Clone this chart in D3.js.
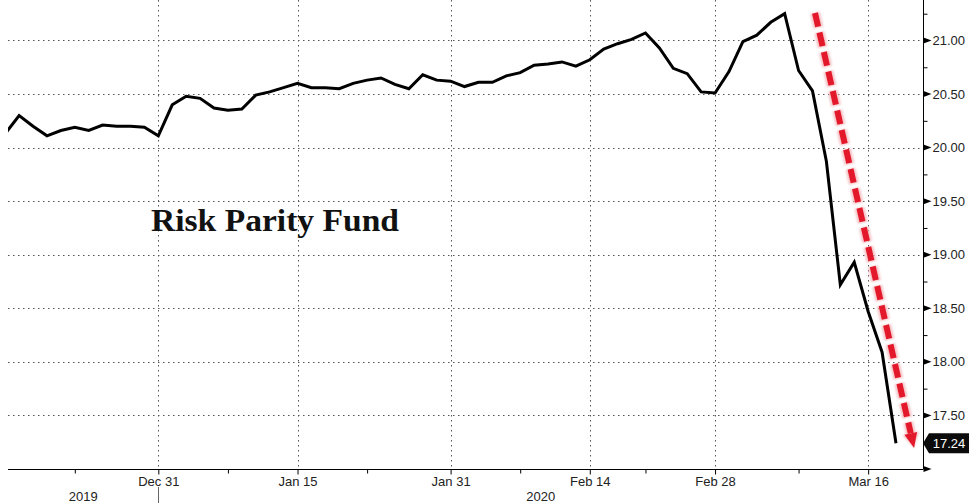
<!DOCTYPE html>
<html>
<head>
<meta charset="utf-8">
<script src="https://cdn.jsdelivr.net/npm/d3@7"></script>
<style>
  html, body { margin: 0; padding: 0; background: #fff; }
  svg { display: block; }
</style>
</head>
<body>
<svg id="chart" width="976" height="503"></svg>
<script>
// ---------------- data ----------------
const dates = [
  "2019-12-13","2019-12-16","2019-12-17","2019-12-18","2019-12-19","2019-12-20",
  "2019-12-23","2019-12-24","2019-12-26","2019-12-27","2019-12-30","2019-12-31",
  "2020-01-02","2020-01-03","2020-01-06","2020-01-07","2020-01-08","2020-01-09",
  "2020-01-10","2020-01-13","2020-01-14","2020-01-15","2020-01-16","2020-01-17",
  "2020-01-21","2020-01-22","2020-01-23","2020-01-24","2020-01-27","2020-01-28",
  "2020-01-29","2020-01-30","2020-01-31","2020-02-03","2020-02-04","2020-02-05",
  "2020-02-06","2020-02-07","2020-02-10","2020-02-11","2020-02-12","2020-02-13",
  "2020-02-14","2020-02-18","2020-02-19","2020-02-20","2020-02-21","2020-02-24",
  "2020-02-25","2020-02-26","2020-02-27","2020-02-28","2020-03-02","2020-03-03",
  "2020-03-04","2020-03-05","2020-03-06","2020-03-09","2020-03-10","2020-03-11",
  "2020-03-12","2020-03-13","2020-03-16","2020-03-17","2020-03-18"
];
const values = [
  20.13, 20.30, 20.20, 20.11, 20.16, 20.19,
  20.16, 20.21, 20.20, 20.20, 20.19, 20.11,
  20.40, 20.48, 20.46, 20.37, 20.35, 20.36,
  20.49, 20.52, 20.56, 20.60, 20.56, 20.56,
  20.55, 20.60, 20.63, 20.65, 20.59, 20.55,
  20.68, 20.63, 20.62, 20.57, 20.61, 20.61,
  20.67, 20.70, 20.77, 20.78, 20.80, 20.76,
  20.82, 20.92, 20.97, 21.01, 21.07, 20.93,
  20.74, 20.69, 20.52, 20.51, 20.71, 20.99,
  21.05, 21.17, 21.25, 20.72, 20.53, 19.87,
  18.72, 18.93, 18.47, 18.09, 17.24
];
const majorTickDates = ["2019-12-31","2020-01-15","2020-01-31","2020-02-14","2020-02-28","2020-03-16"];
const majorTickLabels = ["Dec 31","Jan 15","Jan 31","Feb 14","Feb 28","Mar 16"];
const minorTickDates = ["2019-12-20","2020-01-08","2020-01-23","2020-02-07","2020-02-21","2020-03-09"];
const yearLabels = ["2019","2020"];
const yearBoundary = "2019-12-31";
const yMajorTicks = [17.5, 18.0, 18.5, 19.0, 19.5, 20.0, 20.5, 21.0];
const yUnlabeledTicks = [17.0];
const yMinorTicks = [17.25, 17.75, 18.25, 18.75, 19.25, 19.75, 20.25, 20.75, 21.25];
const title = "Risk Parity Fund";
// annotation arrow (index position in dates array, value)
const arrowStart = [58.18, 21.257];
const arrowEnd = [65.3, 17.196];
const lastLabel = "17.24";

(function () {
// ---------------- layout ----------------
const svg = d3.select("#chart");
const pL = 8, pR = 923, pT = 0, pB = 469;
const idx = d => dates.indexOf(d);

const x = d3.scaleLinear().domain([0.2, 65.94]).range([pL, pR]);
const y = d3.scaleLinear().domain([17, 21.378]).range([pB, pT]);

const axisFont = "'Liberation Sans', Arial, sans-serif";

const defs = svg.append("defs");
defs.append("clipPath").attr("id", "plotclip")
  .append("rect").attr("x", pL).attr("y", pT)
  .attr("width", pR - pL).attr("height", pB - pT);
const blur = defs.append("filter").attr("id", "glow")
  .attr("x", "-50%").attr("y", "-50%").attr("width", "200%").attr("height", "200%");
blur.append("feGaussianBlur").attr("stdDeviation", 1.2);

// gridlines
const grid = svg.append("g");
grid.selectAll(".hgrid").data(yMajorTicks).join("line")
  .attr("x1", pL).attr("x2", pR)
  .attr("y1", d => Math.round(y(d)) + 0.5).attr("y2", d => Math.round(y(d)) + 0.5)
  .attr("stroke", "#555").attr("stroke-width", 1).attr("stroke-dasharray", "1.5,3.5");
grid.selectAll(".vgrid").data(majorTickDates).join("line")
  .attr("x1", d => Math.round(x(idx(d))) + 0.5).attr("x2", d => Math.round(x(idx(d))) + 0.5)
  .attr("y1", pT).attr("y2", pB)
  .attr("stroke", "#555").attr("stroke-width", 1).attr("stroke-dasharray", "1.5,3.5");

// bottom axis (major)
const xMajor = d3.axisBottom(x)
  .tickValues(majorTickDates.map(idx))
  .tickFormat((d, i) => majorTickLabels[i])
  .tickSize(5).tickSizeOuter(0).tickPadding(2);
const gx = svg.append("g").attr("transform", `translate(0,${pB + 0.5})`).call(xMajor);
gx.select(".domain").attr("stroke", "#000").attr("d", `M${pL},0H${pR}`);
gx.selectAll(".tick line").attr("stroke", "#000");
gx.selectAll(".tick text").attr("font-family", axisFont).attr("font-size", 13)
  .attr("fill", "#222");

const xMinor = d3.axisBottom(x).tickValues(minorTickDates.map(idx))
  .tickFormat("").tickSize(4).tickSizeOuter(0);
const gxm = svg.append("g").attr("transform", `translate(0,${pB + 0.5})`).call(xMinor);
gxm.select(".domain").remove();
gxm.selectAll(".tick line").attr("stroke", "#000");

// year labels and separator
const bx = Math.round(x(idx(yearBoundary))) + 0.5;
svg.append("line").attr("x1", bx).attr("x2", bx).attr("y1", 487).attr("y2", 503)
  .attr("stroke", "#666").attr("stroke-width", 1);
const yearCenters = [(pL + bx) / 2, (bx + pR) / 2];
svg.selectAll(".year").data(yearLabels).join("text")
  .attr("x", (d, i) => yearCenters[i]).attr("y", 501)
  .attr("text-anchor", "middle").attr("font-family", axisFont).attr("font-size", 13)
  .attr("fill", "#222").text(d => d);

// right axis
const gy = svg.append("g").attr("transform", `translate(${pR + 0.5},0)`);
gy.append("line").attr("x1", 0).attr("x2", 0).attr("y1", pT).attr("y2", pB + 0.5)
  .attr("stroke", "#000");
const yMinorAxis = d3.axisRight(y).tickValues(yMinorTicks).tickFormat("").tickSize(4).tickSizeOuter(0);
const gym = gy.append("g").call(yMinorAxis);
gym.select(".domain").remove();
gym.selectAll(".tick line").attr("stroke", "#000");

const triTicks = yMajorTicks.concat(yUnlabeledTicks);
gy.selectAll(".tri").data(triTicks).join("path")
  .attr("d", d => { const yy = y(d); return `M0,${yy - 3}L8,${yy}L0,${yy + 3}Z`; })
  .attr("fill", "#000");
gy.selectAll(".ylab").data(yMajorTicks).join("text")
  .attr("x", 9).attr("y", d => y(d)).attr("dy", "0.35em")
  .attr("font-family", axisFont).attr("font-size", 13).attr("fill", "#222")
  .text(d => d3.format(".2f")(d));

// line
const line = d3.line().x((d, i) => x(i)).y(d => y(d));
svg.append("path").datum(values)
  .attr("clip-path", "url(#plotclip)")
  .attr("d", line).attr("fill", "none").attr("stroke", "#000")
  .attr("stroke-width", 3).attr("stroke-linejoin", "miter");

// title
svg.append("text").attr("x", 151).attr("y", 231)
  .attr("font-family", "'Liberation Serif', 'Times New Roman', serif")
  .attr("font-weight", "bold").attr("font-size", 32)
  .attr("textLength", 248).attr("lengthAdjust", "spacingAndGlyphs")
  .attr("fill", "#111").text(title);

// red dashed arrow
const sx = x(arrowStart[0]), sy = y(arrowStart[1]);
const ex = x(arrowEnd[0]), ey = y(arrowEnd[1]);
const ang = Math.atan2(ey - sy, ex - sx);
const headLen = 15, headW = 13;
const bxh = ex - headLen * Math.cos(ang), byh = ey - headLen * Math.sin(ang);
const px = -Math.sin(ang), py = Math.cos(ang);
const arrowG = svg.append("g");
arrowG.append("line").attr("x1", sx).attr("y1", sy).attr("x2", bxh).attr("y2", byh)
  .attr("stroke", "#f3b3b7").attr("stroke-width", 10).attr("stroke-dasharray", "15,5")
  .attr("filter", "url(#glow)").attr("opacity", 0.8);
arrowG.append("path")
  .attr("d", `M${ex},${ey}L${bxh + px * (headW / 2 + 2)},${byh + py * (headW / 2 + 2)}L${bxh - px * (headW / 2 + 2)},${byh - py * (headW / 2 + 2)}Z`)
  .attr("fill", "#f3b3b7").attr("filter", "url(#glow)").attr("opacity", 0.8);
arrowG.append("line").attr("x1", sx).attr("y1", sy).attr("x2", bxh).attr("y2", byh)
  .attr("stroke", "#e3192b").attr("stroke-width", 6).attr("stroke-dasharray", "14,6");
arrowG.append("path")
  .attr("d", `M${ex},${ey}L${bxh + px * headW / 2},${byh + py * headW / 2}L${bxh - px * headW / 2},${byh - py * headW / 2}Z`)
  .attr("fill", "#e3192b");

// last value label
const ly = y(values[values.length - 1]);
const lx = pR;
svg.append("path")
  .attr("d", `M${lx},${ly}L${lx + 6},${ly - 10}H${lx + 46}V${ly + 10}H${lx + 6}Z`)
  .attr("fill", "#0b0b0b");
svg.append("text").attr("x", lx + 26).attr("y", ly).attr("dy", "0.36em")
  .attr("text-anchor", "middle").attr("font-family", axisFont).attr("font-size", 13)
  .attr("fill", "#fff").text(lastLabel);
})();
</script>
</body>
</html>
